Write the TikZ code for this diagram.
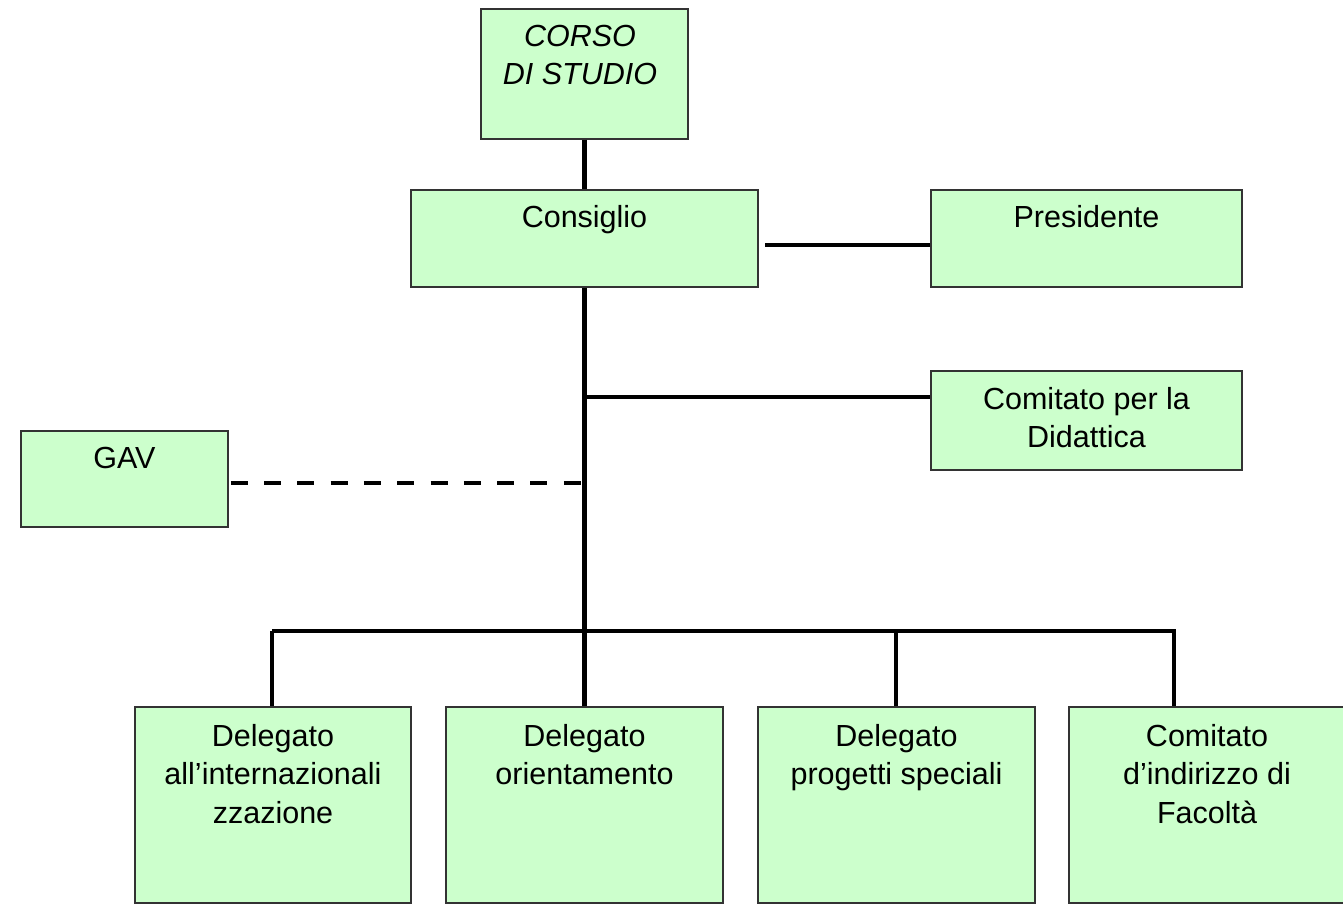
\documentclass[tikz,border=0pt]{standalone}
\usepackage{fontspec}
\setmainfont{Liberation Sans}
\definecolor{boxfill}{HTML}{CCFFCC}
\definecolor{boxline}{HTML}{333333}
\begin{document}
\begin{tikzpicture}[x=1pt,y=-1pt,
  box/.style={draw=boxline,line width=1.5pt,fill=boxfill,rectangle,inner sep=0pt},
  lbl/.style={anchor=north,align=center,inner sep=0pt,font=\fontsize{30.5}{38.5}\selectfont},
  conn/.style={line width=4.5pt,draw=black},
  dconn/.style={line width=4.5pt,draw=black,dash pattern=on 17pt off 16.3pt}]
\useasboundingbox (0,0) rectangle (1343,917);
% boxes
\node[box,minimum width=207pt,minimum height=130pt] (corso) at (584.5,74) {};
\node[box,minimum width=347pt,minimum height=97pt] (cons) at (584.5,238.5) {};
\node[box,minimum width=311pt,minimum height=97pt] (pres) at (1086.5,238.5) {};
\node[box,minimum width=311pt,minimum height=99pt] (comd) at (1086.5,420.5) {};
\node[box,minimum width=207pt,minimum height=96pt] (gav) at (124.5,479) {};
\node[box,minimum width=276pt,minimum height=196pt] (d1) at (273,805) {};
\node[box,minimum width=277pt,minimum height=196pt] (d2) at (584.5,805) {};
\node[box,minimum width=277pt,minimum height=196pt] (d3) at (896.5,805) {};
\node[box,minimum width=276pt,minimum height=196pt] (d4) at (1207,805) {};
% labels
\node[lbl,font=\fontsize{30.5}{38.5}\selectfont\itshape] (tcorso) at (580,25) {CORSO\\DI STUDIO};
\node[lbl] (tcons) at (584.5,205) {Consiglio};
\node[lbl] (tpres) at (1086.5,205) {Presidente};
\node[lbl] (tcomd) at (1086.5,387) {Comitato per la\\Didattica};
\node[lbl] (tgav) at (124.5,447) {GAV};
\node[lbl] (td1) at (273,724) {Delegato\\all’internazionali\\zzazione};
\node[lbl] (td2) at (584.5,724) {Delegato\\orientamento};
\node[lbl] (td3) at (896.5,724) {Delegato\\progetti speciali};
\node[lbl] (td4) at (1207,724) {Comitato\\d’indirizzo di\\Facoltà};
% junction coordinates
\coordinate (jpres) at (765,245);
\coordinate (jcomd) at (584.5,397);
\coordinate (jgav) at (582,483);
\coordinate (jbar) at (584.5,631);
\coordinate (bl) at (272,631);
\coordinate (br) at (1176,631);
% connectors
\draw[conn] (corso.south) -- (cons.north);
\draw[conn] (jpres) -- (pres.west |- jpres);
\draw[conn] (cons.south) -- (jbar);
\draw[conn] (jcomd) -- (comd.west |- jcomd);
\draw[dconn] (gav.east |- jgav) ++(2,0) -- (jgav);
\draw[conn] (bl) -- (br);
\draw[conn] (bl) -- (bl |- d1.north);
\draw[conn] (jbar) -- (d2.north);
\draw[conn] (896,631) coordinate (b3) -- (b3 |- d3.north);
\draw[conn] (1174,631) coordinate (b4) -- (b4 |- d4.north);
\end{tikzpicture}
\end{document}
